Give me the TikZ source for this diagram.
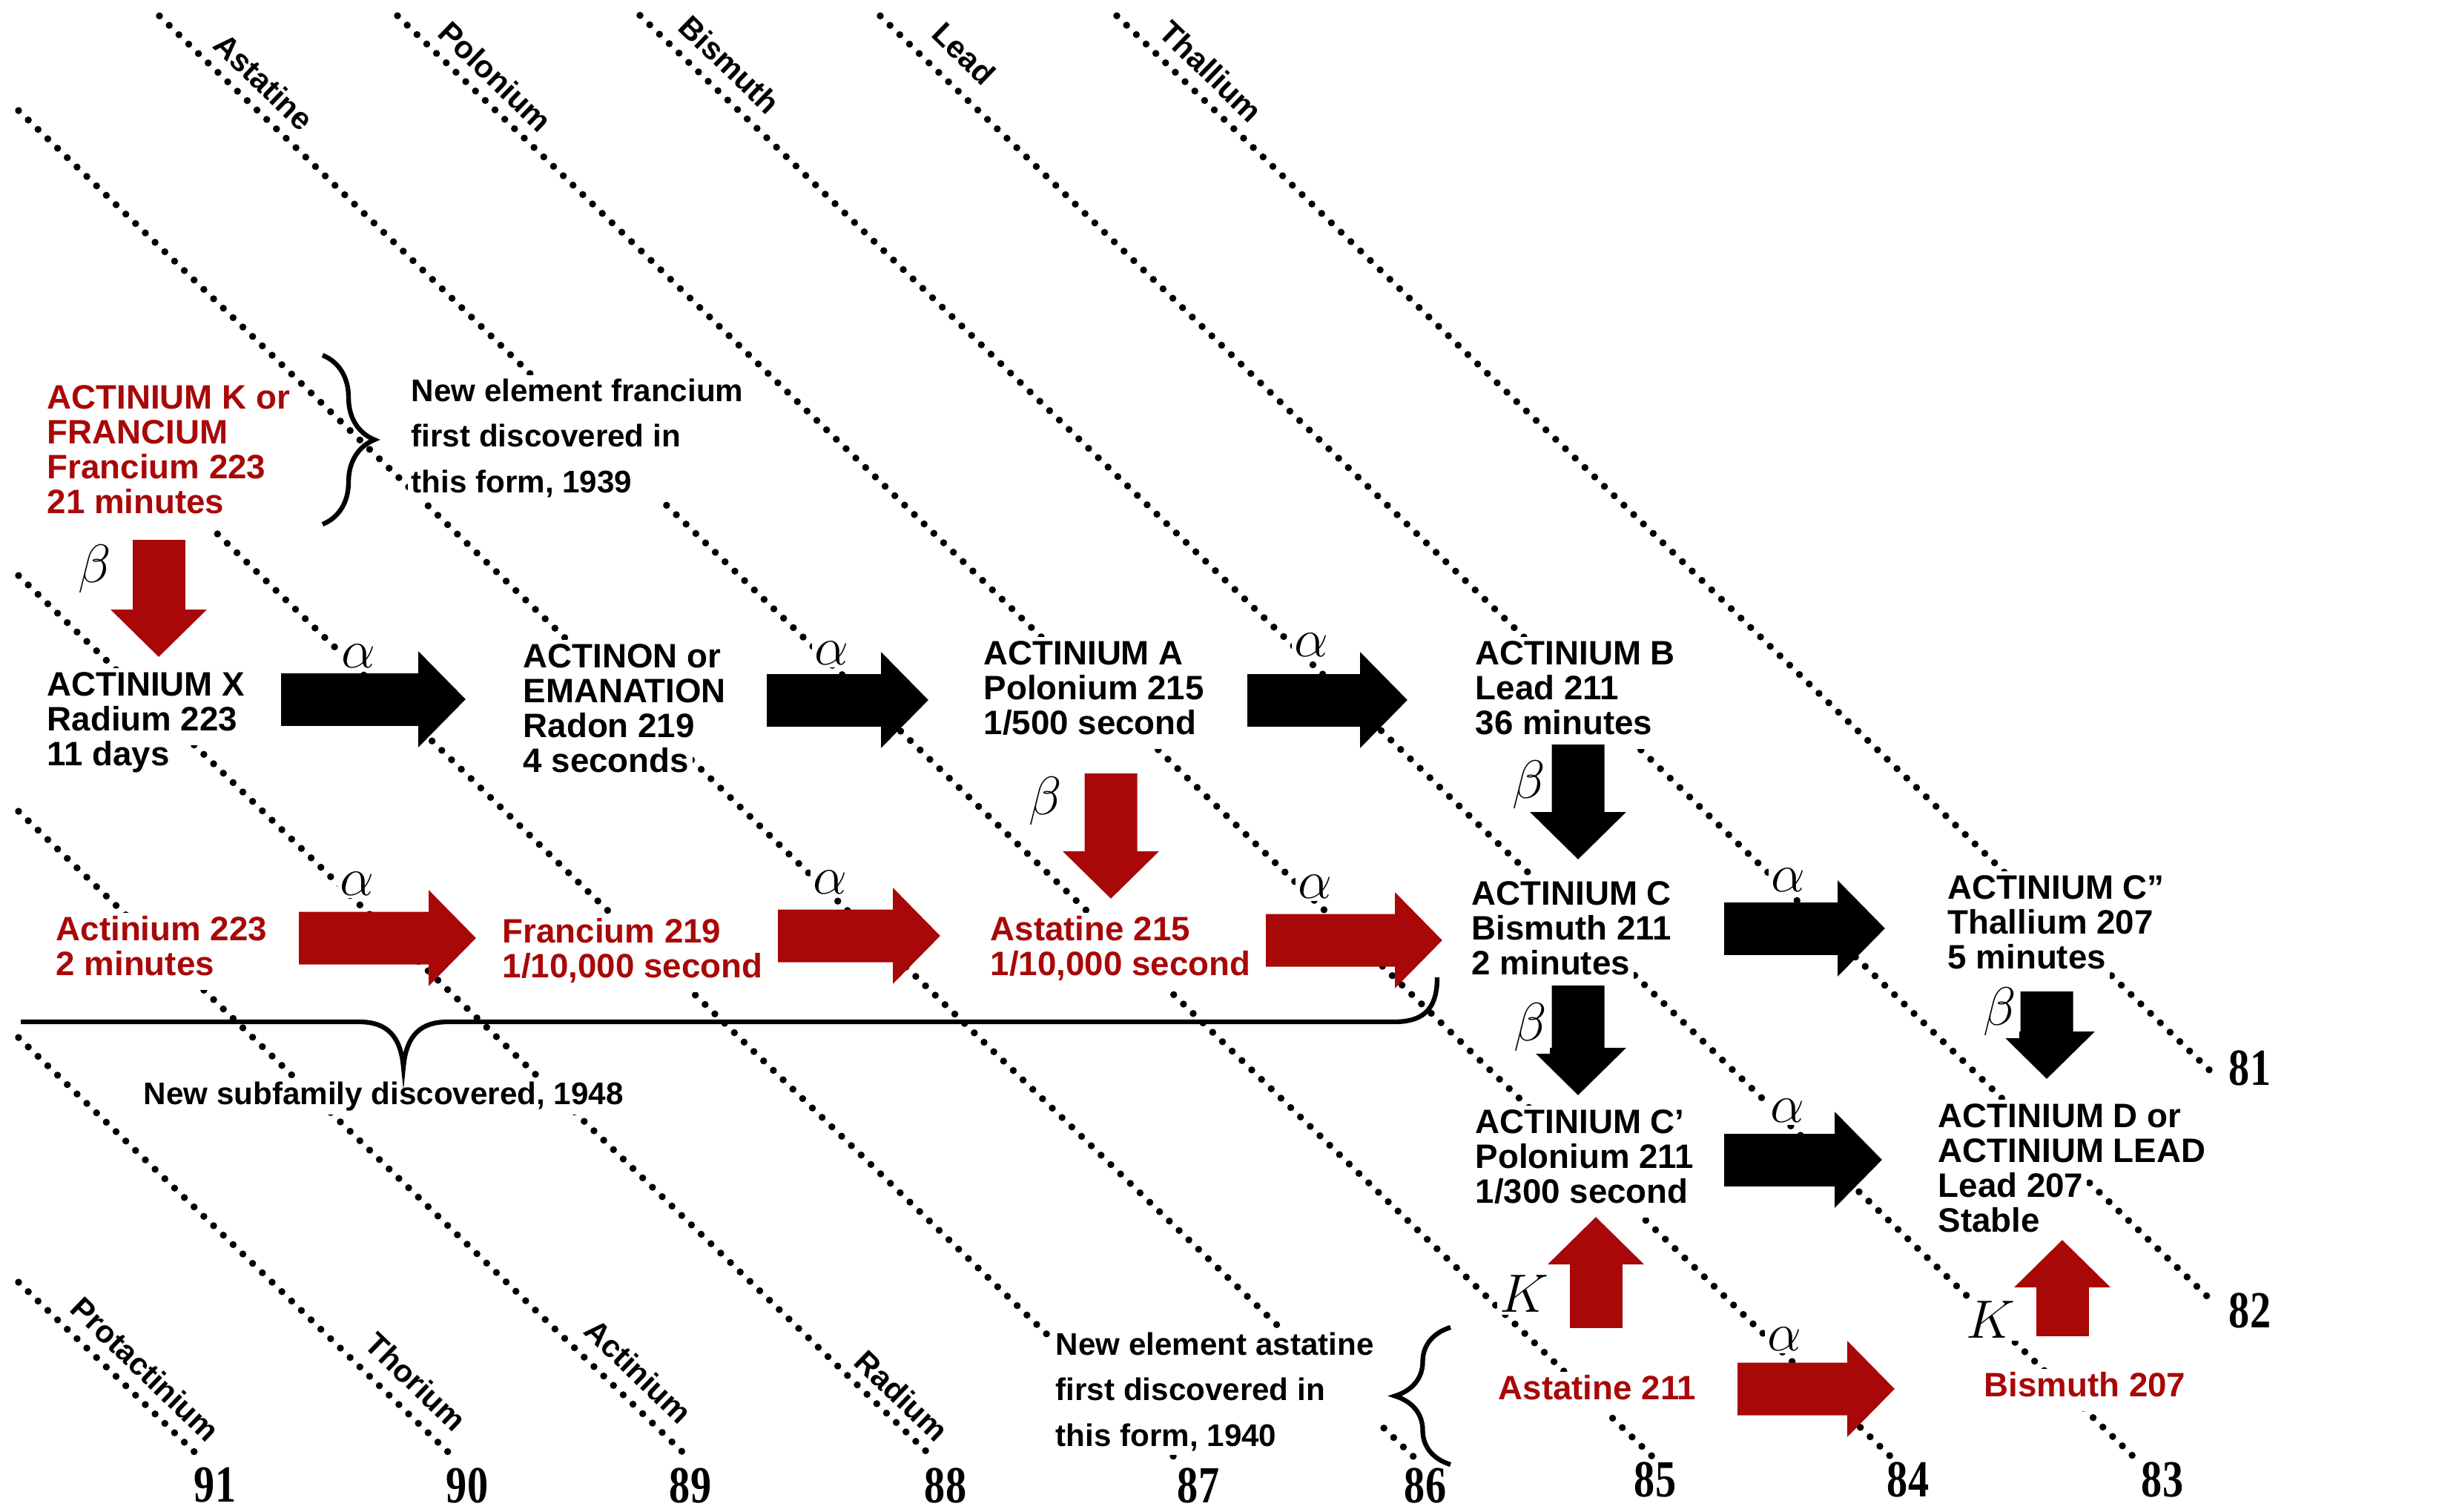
\documentclass[tikz,border=0pt]{standalone}
\usepackage{fontspec}
\setmainfont{Liberation Sans}
\newfontfamily\numfont{Liberation Serif}[FakeStretch=0.8]
\usepackage{tikz}
\usetikzlibrary{arrows.meta,positioning,calc,decorations.pathreplacing}
\definecolor{decayred}{RGB}{168,8,8}
\setlength{\fboxsep}{0.05cm}
\setlength{\lineskiplimit}{-10cm}
\newcommand{\wl}[1]{\colorbox{white}{\strut#1}}

\begin{document}
\begin{tikzpicture}[>=Stealth,
  nuc/.style={anchor=north west, inner sep=0pt, xshift=-0.05cm, yshift=0.05cm, align=left, text=#1, font=\bfseries\fontsize{13}{13.4}\selectfont},
  nuc/.default=black,
  note/.style={anchor=north west, inner sep=0.05cm, xshift=-0.05cm, yshift=0.05cm, fill=white, align=left, font=\bfseries\fontsize{12}{17.5}\selectfont},
  elem/.style={rotate=-44, inner sep=0pt, font=\bfseries\fontsize{12}{14}\selectfont},
  zno/.style={inner sep=0pt, font=\numfont\bfseries\fontsize{20}{22}\selectfont},
  zline/.style={line width=2.7pt, dash pattern=on 0pt off 5.2pt, line cap=round},
  decay/.style={line width=0.71cm, draw=#1, -{Triangle[length=0.64cm,width=1.26cm]}},
  decay/.default=black,
  lab/.style={inner sep=1pt, fill=white, font=\fontsize{20}{22}\selectfont},
  brc/.style={line width=1.8pt, decorate, decoration={brace, amplitude=#1}}]
\useasboundingbox (0,0) rectangle (32.89,-20.38);

% lines of constant Z
\foreach \z/\c/\xa/\xb in {81/-14.32/15.06/29.85, 82/-11.24/11.87/29.85, 83/-8.12/8.63/28.78,
  84/-4.96/5.36/25.50, 85/-1.86/2.15/22.29, 86/1.25/0.25/19.07, 87/4.37/0.96/15.83,
  88/7.52/0.25/12.57, 89/10.70/0.25/9.27, 90/13.75/0.25/6.11, 91/17.05/0.25/2.69}
  \draw[zline] ({\xa},{-(0.965*\xa+\c)}) -- ({\xb},{-(0.965*\xb+\c)});

% nuclides
\node[nuc=decayred] (fr223) at (0.63,-5.18) {\wl{ACTINIUM K or}\\\wl{FRANCIUM}\\\wl{Francium 223}\\\wl{21 minutes}};
\node[nuc] (ra223) at (0.63,-9.05) {\wl{ACTINIUM X}\\\wl{Radium 223}\\\wl{11 days}};
\node[nuc] (rn219) at (7.05,-8.67) {\wl{ACTINON or}\\\wl{EMANATION}\\\wl{Radon 219}\\\wl{4 seconds}};
\node[nuc] (po215) at (13.26,-8.63) {\wl{ACTINIUM A}\\\wl{Polonium 215}\\\wl{1/500 second}};
\node[nuc] (pb211) at (19.89,-8.63) {\wl{ACTINIUM B}\\\wl{Lead 211}\\\wl{36 minutes}};
\node[nuc=decayred] (ac223) at (0.75,-12.35) {\wl{Actinium 223}\\\wl{2 minutes}};
\node[nuc=decayred] (fr219) at (6.77,-12.38) {\wl{Francium 219}\\\wl{1/10,000 second}};
\node[nuc=decayred] (at215) at (13.35,-12.35) {\wl{Astatine 215}\\\wl{1/10,000 second}};
\node[nuc] (bi211) at (19.84,-11.87) {\wl{ACTINIUM C}\\\wl{Bismuth 211}\\\wl{2 minutes}};
\node[nuc] (tl207) at (26.26,-11.79) {\wl{ACTINIUM C”}\\\wl{Thallium 207}\\\wl{5 minutes}};
\node[nuc] (po211) at (19.89,-14.95) {\wl{ACTINIUM C’}\\\wl{Polonium 211}\\\wl{1/300 second}};
\node[nuc] (pb207) at (26.13,-14.87) {\wl{ACTINIUM D or}\\\wl{ACTINIUM LEAD}\\\wl{Lead 207}\\\wl{Stable}};
\node[nuc=decayred] (at211) at (20.20,-18.54) {\wl{Astatine 211}};
\node[nuc=decayred] (bi207) at (26.75,-18.50) {\wl{Bismuth 207}};

% notes and braces
\node[note] (ann1) at (5.54,-5.10) {New element francium\\first discovered in\\this form, 1939};
\node[note] (ann2) at (1.93,-14.58) {New subfamily discovered, 1948};
\node[note] (ann3) at (14.23,-17.96) {New element astatine\\first discovered in\\this form, 1940};
\draw[brc=0.7cm] (4.35,-4.79) -- (4.35,-7.07);
\draw[brc=0.75cm] (19.56,-19.75) -- (19.56,-17.90);
\draw[line width=1.8pt] (0.28,-13.78) -- (4.84,-13.78)
  .. controls (5.20,-13.78) and (5.40,-13.95) .. (5.44,-14.39)
  .. controls (5.48,-13.95) and (5.68,-13.78) .. (6.04,-13.78) -- (18.80,-13.78)
  .. controls (19.25,-13.78) and (19.38,-13.55) .. (19.38,-13.18);

% alpha decays
\draw[decay] ($(ra223.north west)+(3.21,-0.43)$) -- node[lab, pos=.42, yshift=.58cm] (al1) {$\alpha$} ($(rn219.north west)+(-0.72,-0.81)$);
\draw[decay] ($(rn219.north west)+(3.34,-0.82)$) -- node[lab, pos=.40, yshift=.63cm] (al2) {$\alpha$} ($(po215.north west)+(-0.69,-0.86)$);
\draw[decay] ($(po215.north west)+(3.61,-0.86)$) -- node[lab, pos=.40, yshift=.74cm] (al3) {$\alpha$} ($(pb211.north west)+(-0.86,-0.86)$);
\draw[decay=decayred] ($(ac223.north west)+(3.33,-0.35)$) -- node[lab, pos=.33, yshift=.73cm] (al4) {$\alpha$} ($(fr219.north west)+(-0.30,-0.32)$);
\draw[decay=decayred] ($(fr219.north west)+(3.77,-0.29)$) -- node[lab, pos=.32, yshift=.72cm] (al5) {$\alpha$} ($(at215.north west)+(-0.62,-0.32)$);
\draw[decay=decayred] ($(at215.north west)+(3.77,-0.38)$) -- node[lab, pos=.28, yshift=.72cm] (al6) {$\alpha$} ($(bi211.north west)+(-0.34,-0.86)$);
\draw[decay] ($(bi211.north west)+(3.46,-0.70)$) -- node[lab, pos=.40, yshift=.65cm] (al7) {$\alpha$} ($(tl207.north west)+(-0.79,-0.78)$);
\draw[decay] ($(po211.north west)+(3.41,-0.74)$) -- node[lab, pos=.40, yshift=.66cm] (al8) {$\alpha$} ($(pb207.north west)+(-0.70,-0.82)$);
\draw[decay=decayred] ($(at211.north west)+(3.28,-0.24)$) -- node[lab, pos=.30, yshift=.67cm] (al9) {$\alpha$} ($(bi207.north west)+(-1.15,-0.28)$);

% beta decays and K capture
\draw[decay=decayred] ($(fr223.north west)+(1.56,-2.15)$) -- node[lab, pos=.25, xshift=-.86cm] (be1) {$\beta$} ($(ra223.north west)+(1.56,0.14)$);
\draw[decay=decayred] ($(po215.north west)+(1.77,-1.85)$) -- node[lab, pos=.22, xshift=-.88cm] (be2) {$\beta$} ($(at215.north west)+(1.68,0.18)$);
\draw[decay] ($(pb211.north west)+(1.44,-1.46)$) -- node[lab, pos=.35, xshift=-.66cm] (be3) {$\beta$} ($(bi211.north west)+(1.49,0.23)$);
\draw[decay] ($(bi211.north west)+(1.49,-1.47)$) -- node[lab, pos=.38, xshift=-.64cm] (be4) {$\beta$} ($(po211.north west)+(1.44,0.13)$);
\draw[decay] ($(tl207.north west)+(1.39,-1.63)$) -- node[lab, pos=.23, xshift=-.63cm] (be5) {$\beta$} ($(pb207.north west)+(1.52,0.27)$);
\draw[decay=decayred] ($(at211.north west)+(1.37,0.58)$) -- node[lab, pos=.31, xshift=-.97cm] (k1) {$K$} ($(po211.north west)+(1.68,-1.51)$);
\draw[decay=decayred] ($(bi207.north west)+(1.11,0.43)$) -- node[lab, pos=.17, xshift=-.97cm] (k2) {$K$} ($(pb207.north west)+(1.73,-1.90)$);

% element names and atomic numbers
\node[elem] (nAt) at (3.56,-1.10) {Astatine};
\node[elem] (nPo) at (6.68,-1.03) {Polonium};
\node[elem] (nBi) at (9.84,-0.87) {Bismuth};
\node[elem] (nPb) at (13.00,-0.72) {Lead};
\node[elem] (nTl) at (16.33,-0.96) {Thallium};
\node[elem] (nPa) at (1.96,-18.46) {Protactinium};
\node[elem] (nTh) at (5.61,-18.63) {Thorium};
\node[elem] (nAc) at (8.61,-18.49) {Actinium};
\node[elem] (nRa) at (12.16,-18.82) {Radium};
\foreach \z/\x in {91/2.90, 90/6.30, 89/9.31, 88/12.75, 87/16.16, 86/19.22}
  \node[zno] (z\z) at (\x,-20.03) {\z};
\foreach \z/\x in {85/22.32, 84/25.73, 83/29.16}
  \node[zno] (z\z) at (\x,-19.95) {\z};
\node[zno] (z81) at (30.34,-14.40) {81};
\node[zno] (z82) at (30.34,-17.67) {82};
\end{tikzpicture}
\end{document}
